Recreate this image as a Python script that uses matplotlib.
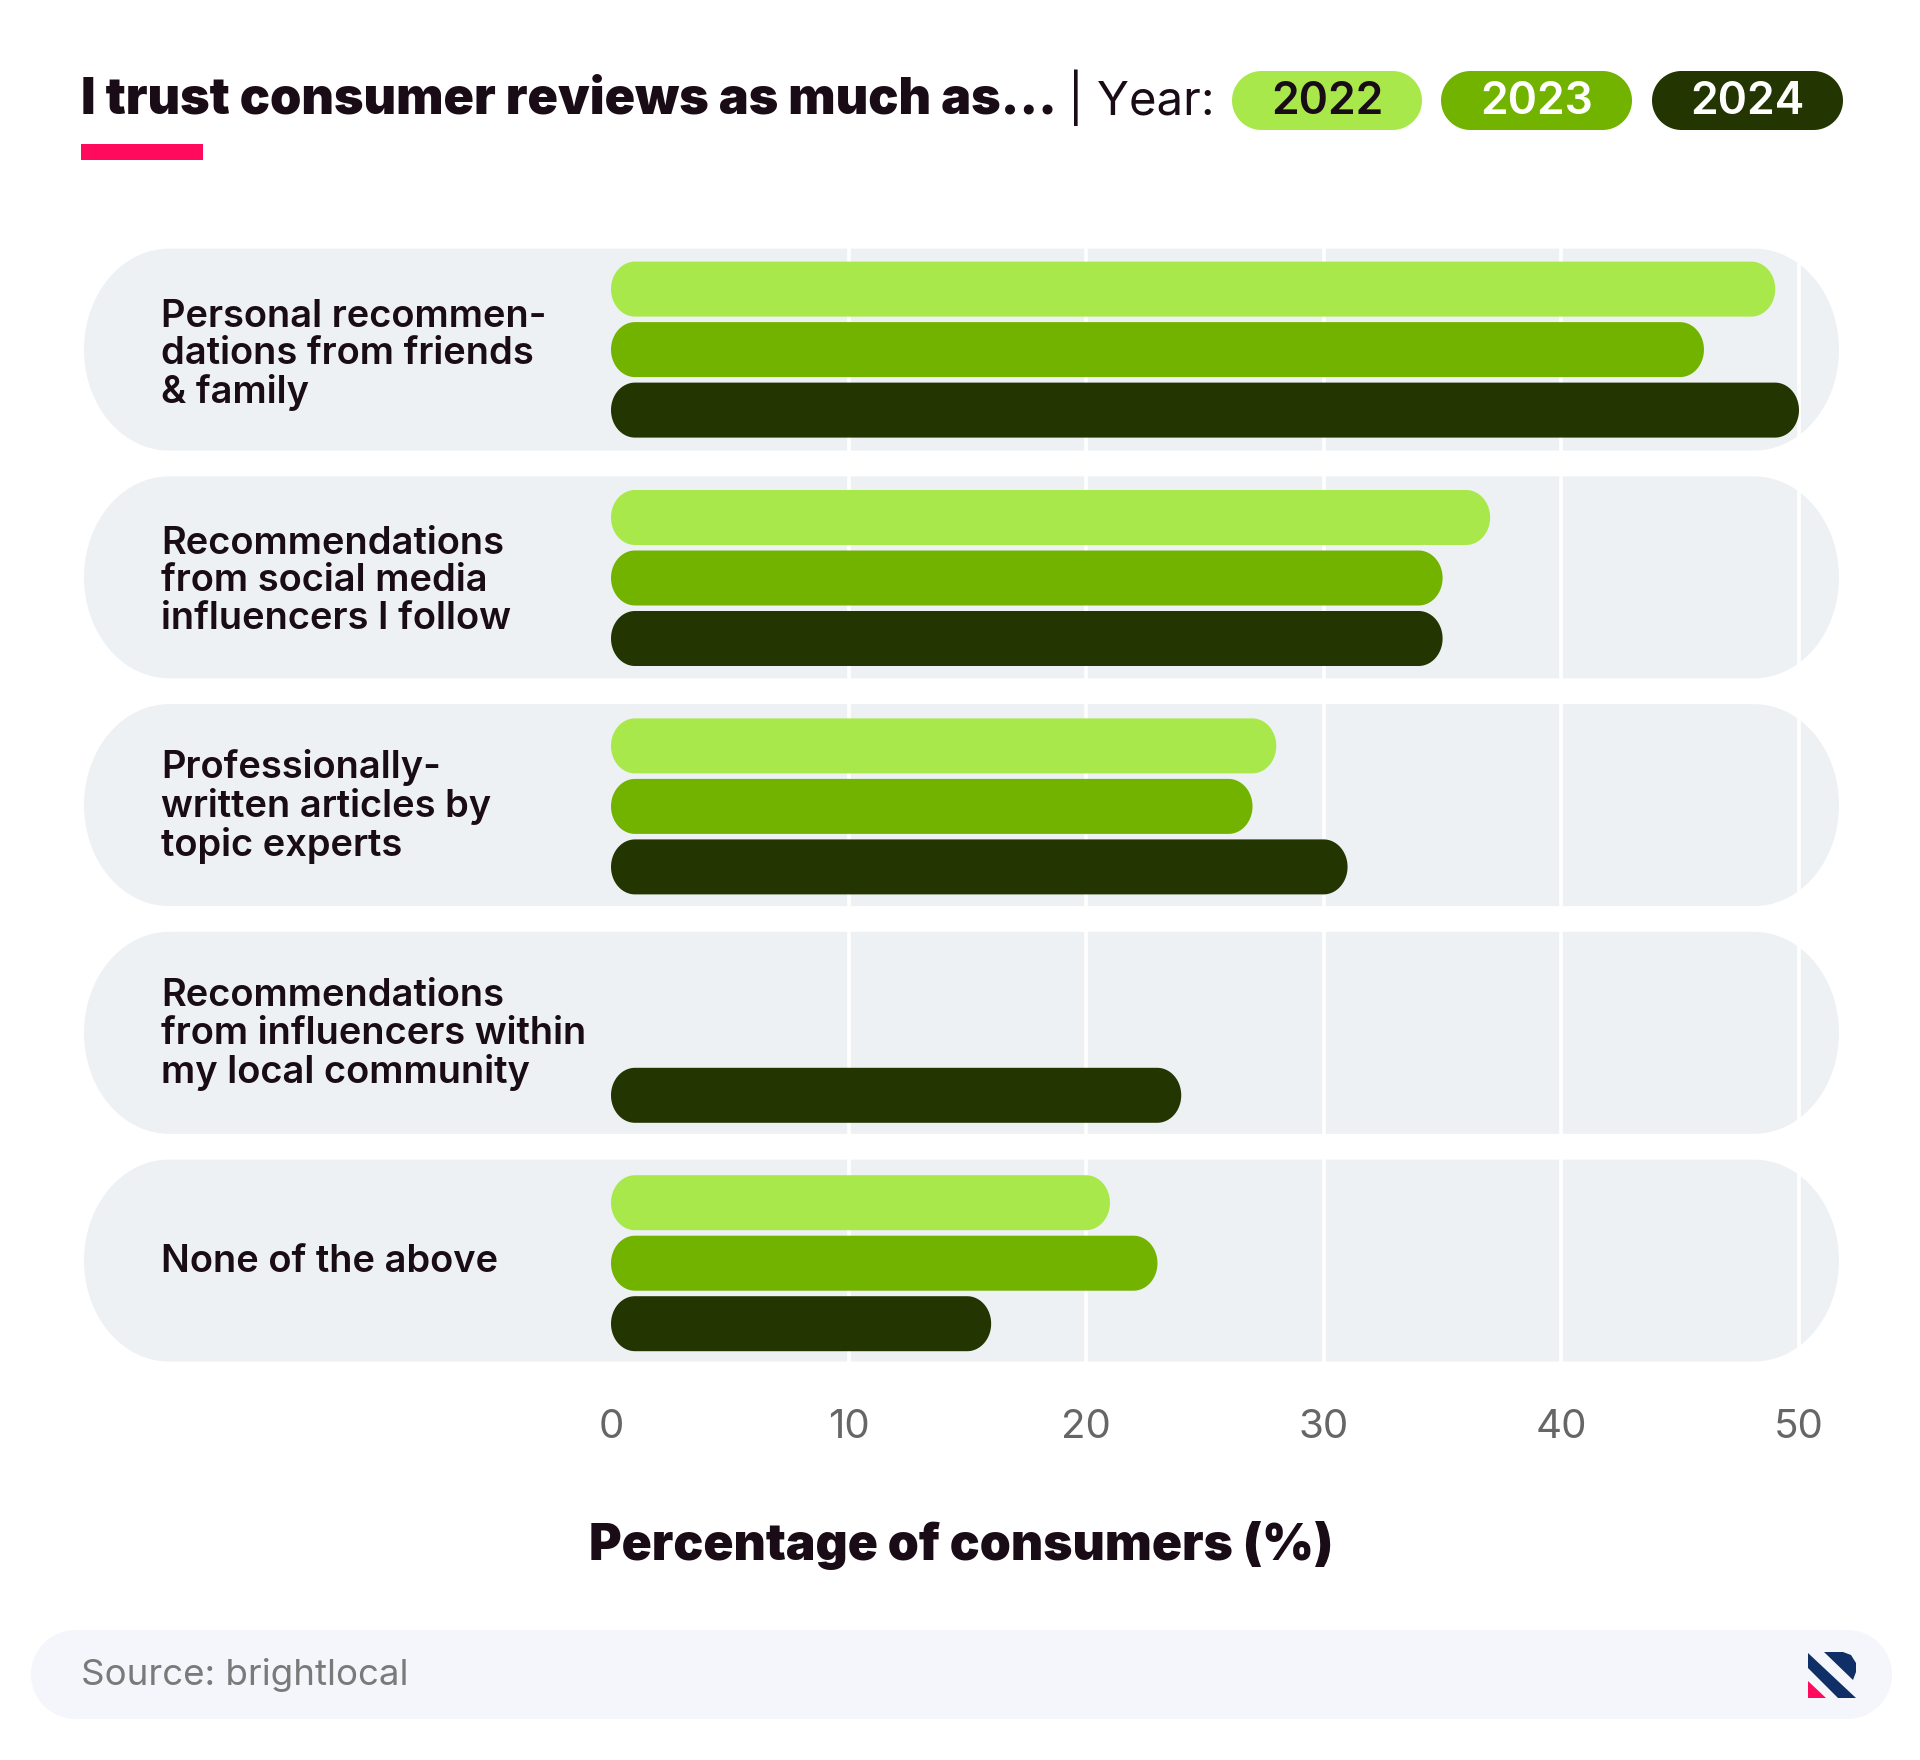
import numpy as np
import matplotlib
matplotlib.use("Agg")
import matplotlib.pyplot as plt
import matplotlib.transforms as mtrans
from matplotlib.patches import Polygon, Rectangle

plt.rcParams['font.family'] = ['Inter', 'DejaVu Sans']

# data
categories = [
    "Personal recommen-\ndations from friends\n& family",
    "Recommendations\nfrom social media\ninfluencers I follow",
    "Professionally-\nwritten articles by\ntopic experts",
    "Recommendations\nfrom influencers within\nmy local community",
    "None of the above",
]
years = ["2022", "2023", "2024"]
values_2022 = [49, 37, 28, None, 21]
values_2023 = [46, 35, 27, None, 23]
values_2024 = [50, 35, 31, 24, 16]
xticks = [0, 10, 20, 30, 40, 50]

# colours
C_2022 = "#a9e84a"
C_2023 = "#72b300"
C_2024 = "#233500"
C_PANEL = "#edf1f4"
C_TEXT = "#1a0c16"
C_PINK = "#ff0a5c"
C_NAVY = "#0f2f66"

W, H = 1920, 1760
fig = plt.figure(figsize=(W / 100, H / 100), dpi=100, facecolor="white")

# background layer in pixels
bg = fig.add_axes([0, 0, 1, 1], zorder=0)
bg.set_xlim(0, W)
bg.set_ylim(H, 0)
bg.axis("off")


def rounded(x0, y0, x1, y1, rx, ry):
    # outline of a rounded box, y grows the same way as the axes it goes in
    t = np.linspace(0, np.pi / 2, 24)
    c, s = np.cos(t), np.sin(t)
    pts = np.concatenate([
        np.c_[x1 - rx + rx * c, y1 - ry + ry * s],
        np.c_[x0 + rx - rx * s, y1 - ry + ry * c],
        np.c_[x0 + rx - rx * c, y0 + ry - ry * s],
        np.c_[x1 - rx + rx * s, y0 + ry - ry * c],
    ])
    return pts


def pill(x0, y0, x1, y1, color, rx=None):
    ry = (y1 - y0) / 2
    rx = ry if rx is None else rx
    bg.add_patch(Polygon(rounded(x0, y0, x1, y1, rx, ry), fc=color, ec="none"))


# row panels
ROW_TOP = 349.6
ROW_STEP = 227.75
for i in range(len(categories)):
    c = ROW_TOP + i * ROW_STEP
    pill(84, c - 101, 1839, c + 101, C_PANEL, rx=85)

# header
bg.text(81, 100, "I trust consumer reviews as much as...", fontsize=36.2,
        fontweight="black", color=C_TEXT, va="center", ha="left")
bg.text(1068, 98, "| Year:", fontsize=34, color=C_TEXT, va="center", ha="left")
bg.add_patch(Rectangle((81, 144), 122, 16, fc=C_PINK, ec="none"))

legend_x = [(1232, 1422), (1441, 1632), (1652, 1843)]
legend_c = [C_2022, C_2023, C_2024]
legend_t = [C_TEXT, "white", "white"]
for (x0, x1), c, tc, y in zip(legend_x, legend_c, legend_t, years):
    pill(x0, 71, x1, 130, c)
    bg.text((x0 + x1) / 2, 102, y, fontsize=32, color=tc, ha="center",
            va="center", fontweight="semibold")

# source bar
pill(31, 1630, 1892, 1719, "#f5f6fb")
bg.text(81, 1675, "Source: brightlocal", fontsize=26.4, color="#7a7a7a",
        va="center", ha="left")

# logo
bg.add_patch(Polygon([(1808, 1653), (1808, 1668), (1838, 1698), (1856, 1698)],
                     fc=C_NAVY, ec="none"))
bg.add_patch(Polygon([(1824, 1652), (1843, 1652), (1851, 1655), (1856, 1663),
                      (1856, 1672), (1853, 1680)], fc=C_NAVY, ec="none"))
bg.add_patch(Polygon([(1808, 1681), (1808, 1698), (1826, 1698)],
                     fc=C_PINK, ec="none"))

# chart, x runs 0-50 from px 611 to px 1799, one y unit per row
X0, X1 = 611, 1799
BAR_STEP = 228.4
y_top = ROW_TOP - BAR_STEP / 2
y_bot = y_top + 5 * BAR_STEP
ax = fig.add_axes([X0 / W, 1 - y_bot / H, (X1 - X0) / W, (y_bot - y_top) / H],
                  zorder=1)
ax.patch.set_alpha(0)
ax.set_xlim(0, 50)
ax.set_ylim(4.5, -0.5)
for s in ax.spines.values():
    s.set_visible(False)

ax.set_xticks(xticks)
ax.set_xticklabels([str(t) for t in xticks], fontsize=29, color="#666666")
ax.set_yticks(range(len(categories)))
ax.set_yticklabels(categories, fontsize=27.4, color=C_TEXT,
                   fontweight="semibold", linespacing=1.06, ha="left")
ax.tick_params(axis="x", length=0, pad=23)
ax.tick_params(axis="y", length=0, pad=(X0 - 161) * 0.72)
# tick labels sit a bit off centre depending on their descenders, px upward
label_nudge_px = [-0.4, 1.4, 5, 5, 5]
for lab, n in zip(ax.get_yticklabels(), label_nudge_px):
    up = mtrans.ScaledTranslation(0, n / 100, fig.dpi_scale_trans)
    lab.set_transform(lab.get_transform() + up)
ax.grid(axis="x", color="white", lw=2.6, zorder=1)
for line in ax.xaxis.get_gridlines():
    line.set_clip_on(False)
ax.xaxis.get_gridlines()[0].set_visible(False)
ax.set_axisbelow(True)

ax.set_xlabel("Percentage of consumers (%)", fontsize=35.8, fontweight="black",
              color=C_TEXT, labelpad=53.5)
ax.xaxis.label.set_x((961 - X0) / (X1 - X0))

# rounded bars
BAR_H = 55 / BAR_STEP
OFFSET = 60.5 / BAR_STEP
rx = 24 / ((X1 - X0) / 50)
ry = 27.5 / BAR_STEP
series = [values_2022, values_2023, values_2024]
colors = [C_2022, C_2023, C_2024]
for k, (vals, col) in enumerate(zip(series, colors)):
    for i, v in enumerate(vals):
        if v is None:
            continue
        y = i + (k - 1) * OFFSET - BAR_H / 2
        ax.add_patch(Polygon(rounded(0, y, v, y + BAR_H, rx, ry), fc=col,
                             ec="none", zorder=3, clip_on=False))

fig.savefig("out.png", dpi=100)
